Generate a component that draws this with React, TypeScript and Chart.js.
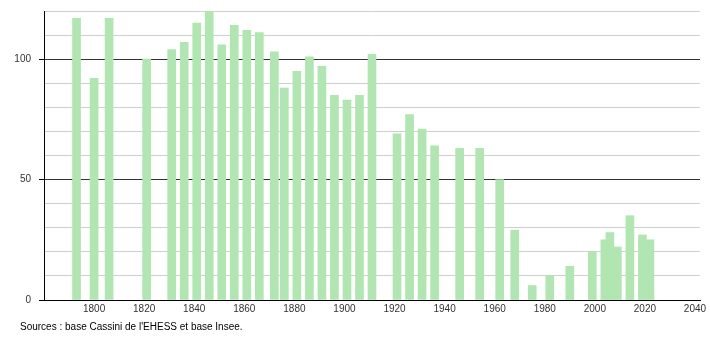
import React, { useEffect, useRef } from "react";
import { Chart, registerables } from "chart.js";

Chart.register(...registerables);

const years = [
  1793, 1800, 1806, 1821, 1831, 1836, 1841, 1846, 1851, 1856, 1861, 1866,
  1872, 1876, 1881, 1886, 1891, 1896, 1901, 1906, 1911, 1921, 1926, 1931,
  1936, 1946, 1954, 1962, 1968, 1975, 1982, 1990, 1999, 2004, 2006, 2009,
  2014, 2019, 2022,
];
const population = [
  117, 92, 117, 100, 104, 107, 115, 120, 106, 114, 112, 111,
  103, 88, 95, 101, 97, 85, 83, 85, 102, 69, 77, 71,
  64, 63, 63, 50, 29, 6, 10, 14, 20, 25, 28, 22,
  35, 27, 25,
];
const yLabels = [0, 50, 100];
const yGrid = [0, 10, 20, 30, 40, 50, 60, 70, 80, 90, 100, 110, 120];
const xLabels = [1800, 1820, 1840, 1860, 1880, 1900, 1920, 1940, 1960, 1980, 2000, 2020, 2040];
const sourceText = "Sources : base Cassini de l'EHESS et base Insee.";

export default function App() {
  const ref = useRef<HTMLCanvasElement | null>(null);
  useEffect(() => {
    if (!ref.current) return;
    const chart = new Chart(ref.current, {
      type: "bar",
      data: {
        datasets: [
          {
            data: years.map((y, i) => ({ x: y, y: population[i] })),
            backgroundColor: "#b1e5b1",
            borderWidth: 0,
            barThickness: 8,
          },
        ],
      },
      options: {
        responsive: false,
        animation: false,
        maintainAspectRatio: false,
        layout: { padding: { top: 11, right: 10, left: 0, bottom: 0 } },
        plugins: { legend: { display: false }, tooltip: { enabled: false }, title: { display: false } },
        scales: {
          x: {
            type: "linear",
            min: 1780,
            max: 2042,
            offset: false,
            afterBuildTicks: (s: any) => {
              s.ticks = xLabels.map((v) => ({ value: v }));
            },
            afterFit: (s: any) => {
              s.height = 40;
              s.paddingLeft = 0;
              s.paddingRight = 0;
            },
            grid: { drawOnChartArea: false, drawTicks: false },
            border: { display: true, color: "#000", width: 1 },
            ticks: {
              autoSkip: false,
              maxRotation: 0,
              padding: 3,
              color: "#333",
              font: { family: "Liberation Sans, Arial, sans-serif", size: 10 },
              callback: (v: any) => String(v),
            },
          },
          y: {
            min: 0,
            max: 120,
            afterBuildTicks: (s: any) => {
              s.ticks = yGrid.map((v) => ({ value: v }));
            },
            afterFit: (s: any) => {
              s.width = 44;
              s.paddingTop = 0;
              s.paddingBottom = 0;
            },
            border: { display: true, color: "#000", width: 1 },
            grid: {
              color: (c: any) => (c.tick && c.tick.value % 50 === 0 ? "#333" : "#cfcfcf"),
              tickColor: (c: any) => (c.tick && c.tick.value % 50 === 0 ? "#000" : "rgba(0,0,0,0)"),
              tickLength: 5,
              lineWidth: 1,
            },
            ticks: {
              autoSkip: false,
              padding: 8,
              color: "#333",
              font: { family: "Liberation Sans, Arial, sans-serif", size: 10 },
              callback: (v: any) => (yLabels.includes(Number(v)) ? String(v) : ""),
            },
          },
        },
      },
    });
    return () => chart.destroy();
  }, []);
  return (
    <div style={{ position: "absolute", left: 0, top: 0, width: 710, height: 340, background: "#fff" }}>
      <canvas ref={ref} width={710} height={340} style={{ display: "block" }} />
      <div
        style={{
          position: "absolute",
          left: 20,
          top: 321,
          fontFamily: "Liberation Sans, Arial, sans-serif",
          fontSize: 10,
          color: "#000",
          whiteSpace: "nowrap",
        }}
      >
        {sourceText}
      </div>
    </div>
  );
}
